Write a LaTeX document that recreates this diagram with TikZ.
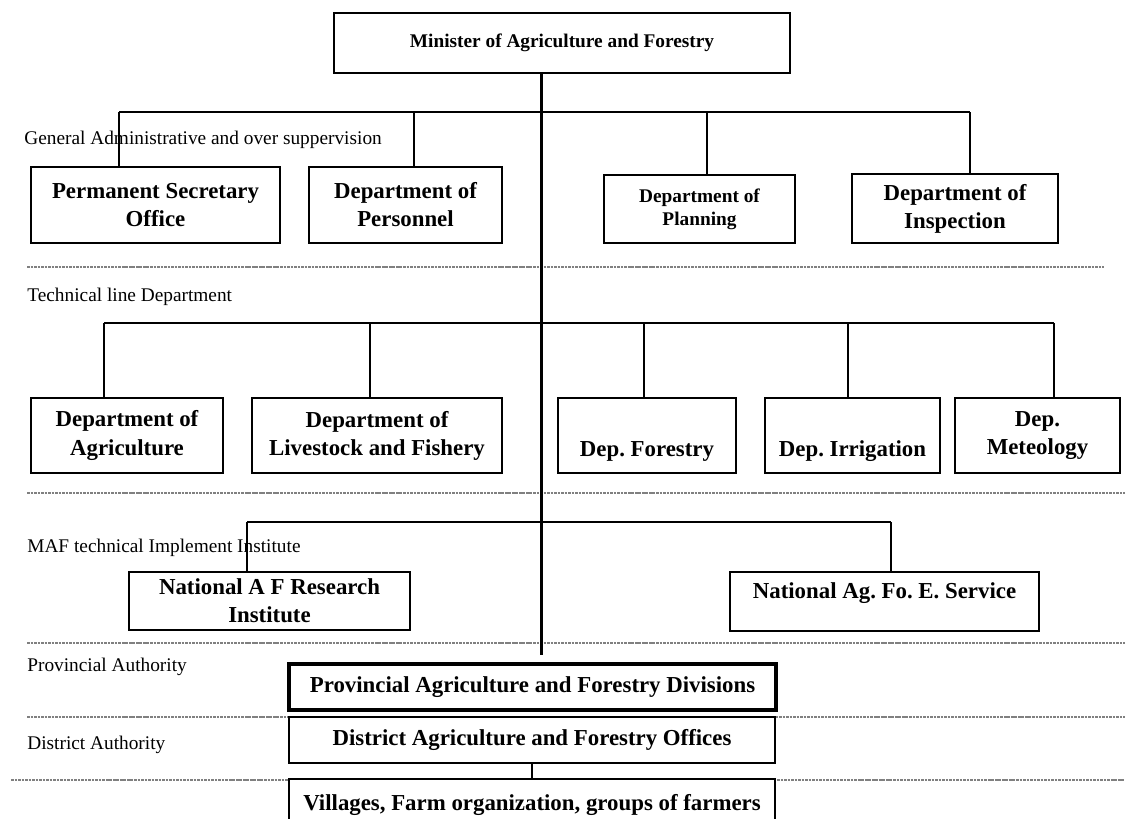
\documentclass[tikz,border=0pt]{standalone}
\usepackage{fontspec}
\setmainfont{Liberation Serif}
\frenchspacing
\begin{document}
\begin{tikzpicture}[x=0.02cm,y=-0.02cm,
	box/.style={draw,line width=0.9pt,fill=white,align=center,inner sep=0pt,font=\bfseries\fontsize{13}{16}\selectfont},
	smallbox/.style={box,font=\bfseries\fontsize{11}{13}\selectfont},
	lab/.style={anchor=west,inner sep=0pt,font=\fontsize{11}{13}\selectfont},
	link/.style={line width=0.6pt},
	spine/.style={line width=1.7pt},
	sep/.style={black!50,dash pattern=on 1.5pt off 0.5pt,line width=0.6pt}]
	\useasboundingbox (0,0) rectangle (1125,818);
	
	\foreach \yy/\xa/\xb in {267/27/1104, 493/27/1125, 643/27/1125, 717/27/1125, 780/11/1125}
	{
		\draw[sep] (\xa,\yy) -- (\xb,\yy);
	}
	
	\node[lab] (galab) at (24,140) {General Administrative and over suppervision};
	\node[lab] (tllab) at (27,297) {Technical line Department};
	\node[lab] (maflab) at (27,548) {MAF technical Implement Institute};
	\node[lab] (provlab) at (27,667) {Provincial Authority};
	\node[lab] (distlab) at (27,745) {District Authority};
	
	\node[smallbox, minimum width=9.12cm, minimum height=1.2cm] (minister) at (562,43) {Minister of Agriculture and Forestry};
	
	\node[box, minimum width=4.98cm, minimum height=1.52cm] (pso) at (155.5,205) {Permanent Secretary\\Office};
	\node[box, minimum width=3.86cm, minimum height=1.52cm] (personnel) at (405.5,205) {Department of\\Personnel};
	\node[smallbox, minimum width=3.82cm, minimum height=1.36cm] (planning) at (699.5,209) {Department of\\Planning};
	\node[box, minimum width=4.12cm, minimum height=1.38cm] (inspection) at (955,208.5) {Department of\\Inspection};
	
	\node[box, minimum width=3.84cm, minimum height=1.5cm] (agriculture) at (127,435.5) {Department of\\Agriculture};
	\node[box, minimum width=5cm, minimum height=1.5cm] (livestock) at (377,435.5) {Department of\\Livestock and Fishery};
	\node[box, minimum width=3.56cm, minimum height=1.5cm] (forestry) at (647,435.5) {\strut\\Dep. Forestry};
	\node[box, minimum width=3.5cm, minimum height=1.5cm] (irrigation) at (852.5,435.5) {\strut\\Dep. Irrigation};
	\node[box, minimum width=3.3cm, minimum height=1.5cm] (meteology) at (1037.5,435.5) {Dep.\\Meteology};
	
	\node[box, minimum width=5.62cm, minimum height=1.16cm] (nafri) at (269.5,601) {National A F Research\\Institute};
	\node[box, minimum width=6.18cm, minimum height=1.18cm] (nafes) at (884.5,601.5) {National Ag. Fo. E. Service\\[-3pt]\mbox{}};
	
	\node[box, line width=1.8pt, minimum width=9.74cm, minimum height=0.92cm] (provincial) at (532.5,687) {Provincial Agriculture and Forestry Divisions};
	\node[box, minimum width=9.72cm, minimum height=0.92cm] (district) at (532,740) {District Agriculture and Forestry Offices};
	\node[box, minimum width=9.72cm, minimum height=1.02cm] (villages) at (532,804.5) {Villages, Farm organization, groups of farmers};
	
	\foreach \nd/\xx in {pso/119, personnel/414, planning/707, inspection/970}
	{
		\draw[link] (\xx,112) coordinate (ga-\nd) -- (ga-\nd |- \nd.north);
	}
	\draw[link] (ga-pso) -- (ga-inspection);
	
	\foreach \nd/\xx in {agriculture/104, livestock/370, forestry/644, irrigation/848, meteology/1054}
	{
		\draw[link] (\xx,323) coordinate (tl-\nd) -- (tl-\nd |- \nd.north);
	}
	\draw[link] (tl-agriculture) -- (tl-meteology);
	
	\foreach \nd/\xx in {nafri/247, nafes/891}
	{
		\draw[link] (\xx,522) coordinate (maf-\nd) -- (maf-\nd |- \nd.north);
	}
	\draw[link] (maf-nafri) -- (maf-nafes);
	
	\coordinate (spineend) at (541,655);
	\draw[spine] (spineend |- minister.south) -- (spineend);
	\draw[link] (district.south) -- (villages.north);
	
\end{tikzpicture}
\end{document}
